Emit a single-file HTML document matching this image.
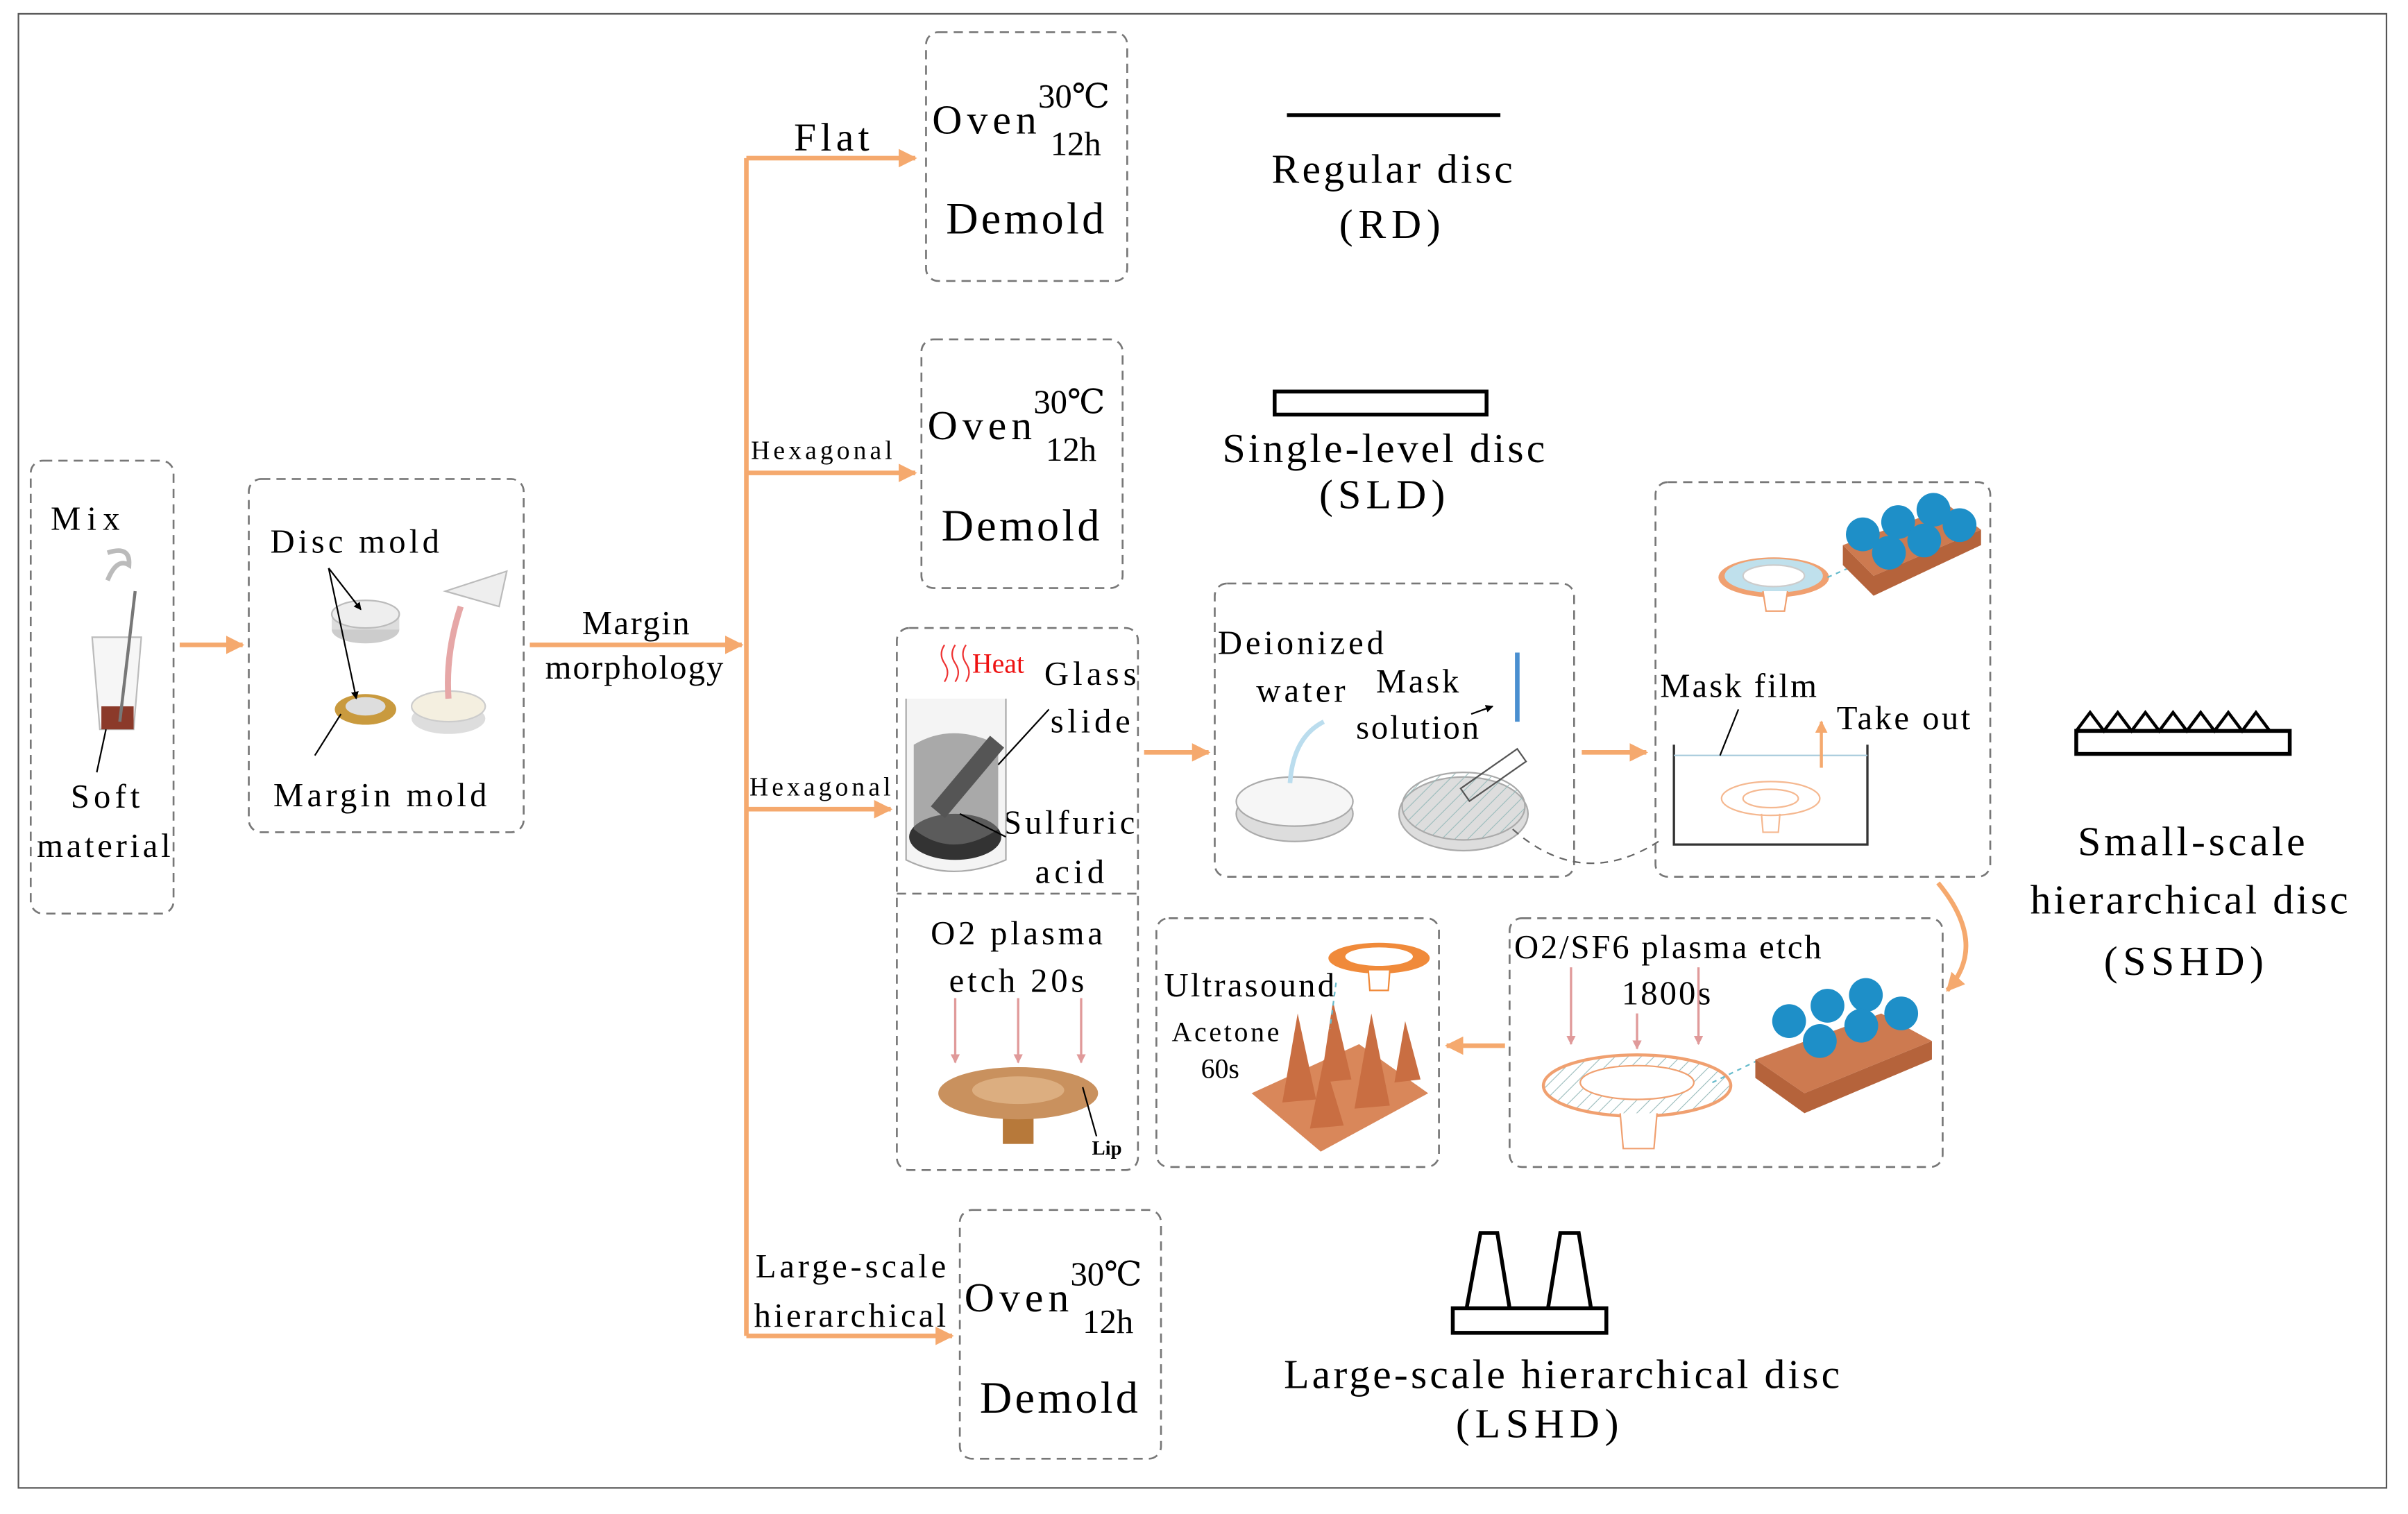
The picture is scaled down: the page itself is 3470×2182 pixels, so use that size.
<!DOCTYPE html>
<html><head><meta charset="utf-8"><style>
html,body{margin:0;padding:0;background:#fff;width:3470px;height:2182px;overflow:hidden}
svg{display:block;font-family:"Liberation Serif","DejaVu Serif",serif}
svg text{font-family:"Liberation Serif","DejaVu Serif",serif;fill:#000}
</style></head><body>
<svg width="3470" height="2182" viewBox="0 0 1568 986" xmlns="http://www.w3.org/2000/svg" font-family="Liberation Serif, DejaVu Serif, serif">
<defs>
<marker id="a" viewBox="0 0 10 10" refX="9" refY="5" markerWidth="4" markerHeight="4" orient="auto"><path d="M0,0L10,5L0,10z" fill="#F5A96E"/></marker>
<marker id="k" viewBox="0 0 10 10" refX="9" refY="5" markerWidth="5" markerHeight="5" orient="auto"><path d="M0,0L10,5L0,10z" fill="#000"/></marker>
<marker id="p" viewBox="0 0 10 10" refX="9" refY="5" markerWidth="4" markerHeight="4" orient="auto"><path d="M0,0L10,5L0,10z" fill="#e09a9a"/></marker>
<pattern id="h" width="6" height="6" patternUnits="userSpaceOnUse" patternTransform="rotate(45)"><line x1="0" y1="0" x2="0" y2="6" stroke="#9bb" stroke-width="1"/></pattern>
</defs>
<rect x="12" y="9" width="1542" height="960" fill="none" stroke="#555" stroke-width="1"/>
<g fill="none" stroke="#777" stroke-width="1.2" stroke-dasharray="6,4">
<rect x="20" y="300" width="93" height="295" rx="8"/>
<rect x="162" y="312" width="179" height="230" rx="8"/>
<rect x="603" y="21" width="131" height="162" rx="8"/>
<rect x="600" y="221" width="131" height="162" rx="8"/>
<rect x="584" y="409" width="157" height="353" rx="8"/>
<line x1="584" y1="582" x2="741" y2="582"/>
<rect x="791" y="380" width="234" height="191" rx="8"/>
<rect x="1078" y="314" width="218" height="257" rx="8"/>
<rect x="983" y="598" width="282" height="162" rx="8"/>
<rect x="753" y="598" width="184" height="162" rx="8"/>
<rect x="625" y="788" width="131" height="162" rx="8"/>
</g>
<g stroke="#F5A96E" stroke-width="3" fill="none">
<line x1="486" y1="103" x2="486" y2="870"/>
<line x1="486" y1="103" x2="596" y2="103" marker-end="url(#a)"/>
<line x1="486" y1="308" x2="596" y2="308" marker-end="url(#a)"/>
<line x1="486" y1="527" x2="580" y2="527" marker-end="url(#a)"/>
<line x1="486" y1="870" x2="620" y2="870" marker-end="url(#a)"/>
<line x1="345" y1="420" x2="483" y2="420" marker-end="url(#a)"/>
<line x1="117" y1="420" x2="158" y2="420" marker-end="url(#a)"/>
<line x1="745" y1="490" x2="787" y2="490" marker-end="url(#a)"/>
<line x1="1030" y1="490" x2="1072" y2="490" marker-end="url(#a)"/>
<path d="M1262,575 Q1295,615 1268,645" marker-end="url(#a)"/>
<line x1="980" y1="681" x2="942" y2="681" marker-end="url(#a)"/>
</g>
<g font-size="22">
<text x="33" y="345" textLength="45">Mix</text>
<text x="46" y="526" textLength="45">Soft</text>
<text x="24" y="558" textLength="87">material</text>
<text x="176" y="360" textLength="110">Disc mold</text>
<text x="178" y="525" textLength="139">Margin mold</text>
<text x="379" y="413" textLength="70">Margin</text>
<text x="355" y="442" textLength="116">morphology</text>
<text x="517" y="98" font-size="26" textLength="49">Flat</text>
<text x="489" y="299" font-size="17" textLength="92">Hexagonal</text>
<text x="488" y="518" font-size="17" textLength="92">Hexagonal</text>
<text x="492" y="832" textLength="124">Large-scale</text>
<text x="491" y="864" textLength="125">hierarchical</text>
</g>
<g font-size="27">
<text x="607" y="87" textLength="68">Oven</text><text x="676" y="70" font-size="22">30℃</text><text x="684" y="101" font-size="22">12h</text>
<text x="616" y="152" font-size="29" textLength="103">Demold</text>
<text x="604" y="286" textLength="68">Oven</text><text x="673" y="269" font-size="22">30℃</text><text x="681" y="300" font-size="22">12h</text>
<text x="613" y="352" font-size="29" textLength="103">Demold</text>
<text x="628" y="854" textLength="68">Oven</text><text x="697" y="837" font-size="22">30℃</text><text x="705" y="868" font-size="22">12h</text>
<text x="638" y="920" font-size="29" textLength="103">Demold</text>
</g>
<g font-size="27">
<text x="828" y="119" textLength="157">Regular disc</text><text x="872" y="155" textLength="66">(RD)</text>
<text x="796" y="301" textLength="210">Single-level disc</text><text x="859" y="331" textLength="82">(SLD)</text>
<text x="1353" y="557" textLength="148">Small-scale</text><text x="1322" y="595" textLength="207">hierarchical disc</text><text x="1370" y="635" textLength="104">(SSHD)</text>
<text x="836" y="904" textLength="362">Large-scale hierarchical disc</text><text x="948" y="936" textLength="106">(LSHD)</text>
</g>
<line x1="838" y1="75" x2="977" y2="75" stroke="#000" stroke-width="2.5"/>
<rect x="830" y="255" width="138" height="15" fill="none" stroke="#000" stroke-width="2.5"/>
<rect x="1352" y="476" width="139" height="15" fill="none" stroke="#000" stroke-width="2.5"/>
<path d="M1352,476 l9,-12 l9,12 l9,-12 l9,12 l9,-12 l9,12 l9,-12 l9,12 l9,-12 l9,12 l9,-12 l9,12 l9,-12 l9,12" fill="none" stroke="#000" stroke-width="2"/>
<rect x="946" y="852" width="100" height="16" fill="none" stroke="#000" stroke-width="2.5"/>
<path d="M955,852 L964,803 L975,803 L983,852 M1008,852 L1016,803 L1028,803 L1036,852" fill="none" stroke="#000" stroke-width="2.5"/>
<g font-size="22">
<text x="680" y="446" textLength="60">Glass</text><text x="684" y="477" textLength="52">slide</text>
<text x="653" y="543" textLength="86">Sulfuric</text><text x="674" y="575" textLength="45">acid</text>
<text x="606" y="615" textLength="112">O2 plasma</text><text x="618" y="646" textLength="88">etch 20s</text>
<text x="793" y="426" textLength="108">Deionized</text><text x="818" y="457" textLength="58">water</text>
<text x="896" y="451" textLength="54">Mask</text><text x="883" y="481" textLength="80">solution</text>
<text x="1081" y="454" textLength="102">Mask film</text><text x="1196" y="475" textLength="87">Take out</text>
<text x="986" y="624" textLength="200">O2/SF6 plasma etch</text><text x="1056" y="654" textLength="58">1800s</text>
<text x="758" y="649" textLength="111">Ultrasound</text>
<text x="763" y="678" font-size="18" textLength="70">Acetone</text><text x="782" y="702" font-size="18">60s</text>
</g>
<text x="633" y="438" font-size="18" style="fill:#e11">Heat</text>
<text x="711" y="752" font-size="13" font-weight="bold">Lip</text>
<path d="M615,420 q-4,6 0,12 q4,6 0,12 M622,420 q-4,6 0,12 q4,6 0,12 M629,420 q-4,6 0,12 q4,6 0,12" stroke="#e33" fill="none"/>
<path d="M60,415 L92,415 L87,475 L65,475 Z" fill="#f6f6f6" stroke="#bbb"/>
<rect x="66" y="460" width="21" height="15" fill="#8b3a2a"/>
<line x1="88" y1="385" x2="78" y2="470" stroke="#777" stroke-width="2"/>
<path d="M70,360 q15,-5 14,8 q-8,-5 -14,10" fill="none" stroke="#bbb" stroke-width="3"/>
<line x1="69" y1="475" x2="63" y2="503" stroke="#000"/>
<ellipse cx="238" cy="410" rx="22" ry="9" fill="#ccc"/><rect x="216" y="400" width="44" height="10" fill="#ddd"/><ellipse cx="238" cy="400" rx="22" ry="9" fill="#eee" stroke="#bbb"/>
<ellipse cx="238" cy="462" rx="20" ry="10" fill="#c99a3e"/><ellipse cx="238" cy="460" rx="13" ry="6" fill="#ddd"/>
<ellipse cx="292" cy="468" rx="24" ry="10" fill="#ddd"/><ellipse cx="292" cy="460" rx="24" ry="10" fill="#f4efe0" stroke="#ccc"/>
<path d="M290,385 L330,372 L325,395 Z" fill="#eee" stroke="#bbb"/><path d="M300,395 q-10,30 -8,60" stroke="#e6a7a7" stroke-width="4" fill="none"/>
<line x1="214" y1="370" x2="235" y2="397" stroke="#000" marker-end="url(#k)"/>
<line x1="214" y1="370" x2="232" y2="455" stroke="#000" marker-end="url(#k)"/>
<line x1="205" y1="492" x2="222" y2="465" stroke="#000"/>
<path d="M590,455 L590,560 Q620,575 655,560 L655,455" fill="#f4f4f4" stroke="#aaa"/>
<ellipse cx="622" cy="545" rx="30" ry="15" fill="#333"/>
<path d="M595,485 Q620,470 650,485 L650,540 Q620,560 595,540 Z" fill="#777" opacity="0.6"/>
<rect x="600" y="500" width="60" height="12" fill="#555" transform="rotate(-50 630 506)"/>
<line x1="683" y1="462" x2="650" y2="498" stroke="#000"/><line x1="655" y1="545" x2="625" y2="530" stroke="#000"/>
<g stroke="#e09a9a" stroke-width="1.5"><line x1="622" y1="650" x2="622" y2="692" marker-end="url(#p)"/><line x1="663" y1="650" x2="663" y2="692" marker-end="url(#p)"/><line x1="704" y1="650" x2="704" y2="692" marker-end="url(#p)"/></g>
<rect x="653" y="720" width="20" height="25" fill="#b7793a"/>
<ellipse cx="663" cy="712" rx="52" ry="17" fill="#c9915e"/><ellipse cx="663" cy="710" rx="30" ry="9" fill="#dcae80"/>
<line x1="705" y1="708" x2="714" y2="740" stroke="#000"/>
<ellipse cx="843" cy="530" rx="38" ry="18" fill="#ddd" stroke="#aaa"/><ellipse cx="843" cy="522" rx="38" ry="16" fill="#f6f6f6" stroke="#aaa"/>
<path d="M862,470 q-20,10 -22,40" stroke="#bde" stroke-width="3" fill="none"/>
<ellipse cx="953" cy="530" rx="42" ry="24" fill="#ddd" stroke="#aaa"/><ellipse cx="953" cy="525" rx="40" ry="22" fill="url(#h)" stroke="#aaa"/>
<rect x="950" y="500" width="45" height="10" fill="none" stroke="#555" transform="rotate(-35 972 505)"/>
<line x1="988" y1="425" x2="988" y2="470" stroke="#4a8fd0" stroke-width="3"/>
<line x1="958" y1="465" x2="972" y2="460" stroke="#000" marker-end="url(#k)"/>
<path d="M985,540 Q1030,580 1080,548" fill="none" stroke="#666" stroke-dasharray="5,4"/>
<ellipse cx="1155" cy="376" rx="36" ry="13" fill="#f0a070"/><ellipse cx="1155" cy="375" rx="32" ry="11" fill="#bfe0ec"/><ellipse cx="1155" cy="375" rx="20" ry="7" fill="#fff" stroke="#ccc"/>
<path d="M1148,385 L1150,398 L1162,398 L1164,385" fill="#fff" stroke="#f0a070"/>
<line x1="1190" y1="376" x2="1215" y2="365" stroke="#6bc" stroke-dasharray="3,3"/>
<path d="M1200,355 L1270,330 L1290,345 L1220,375 Z" fill="#cd7a50"/><path d="M1220,375 L1290,345 L1290,355 L1220,388 L1200,368 L1200,355 Z" fill="#b5633b"/>
<g fill="#1e8fc8"><circle cx="1213" cy="348" r="11"/><circle cx="1236" cy="340" r="11"/><circle cx="1259" cy="332" r="11"/><circle cx="1276" cy="342" r="11"/><circle cx="1230" cy="360" r="11"/><circle cx="1253" cy="352" r="11"/></g>
<path d="M1090,485 L1090,550 L1216,550 L1216,485" fill="none" stroke="#333" stroke-width="1.5"/>
<line x1="1090" y1="492" x2="1216" y2="492" stroke="#aaccdd"/>
<ellipse cx="1153" cy="520" rx="32" ry="11" fill="none" stroke="#f5b890"/><ellipse cx="1153" cy="520" rx="18" ry="6" fill="none" stroke="#f5b890"/>
<path d="M1147,530 L1148,542 L1158,542 L1159,530" fill="none" stroke="#f5b890"/>
<line x1="1132" y1="462" x2="1120" y2="492" stroke="#000"/>
<line x1="1186" y1="500" x2="1186" y2="470" stroke="#F5A96E" stroke-width="2" marker-end="url(#a)"/>
<g stroke="#e09a9a" stroke-width="1.5"><line x1="1023" y1="630" x2="1023" y2="680" marker-end="url(#p)"/><line x1="1066" y1="660" x2="1066" y2="683" marker-end="url(#p)"/><line x1="1106" y1="630" x2="1106" y2="680" marker-end="url(#p)"/></g>
<ellipse cx="1066" cy="707" rx="61" ry="20" fill="url(#h)" stroke="#f0a070" stroke-width="2"/><ellipse cx="1066" cy="705" rx="37" ry="11" fill="#fff" stroke="#f0a070"/>
<path d="M1055,725 L1057,748 L1077,748 L1079,725" fill="#fff" stroke="#f0a070"/>
<line x1="1115" y1="705" x2="1150" y2="688" stroke="#6bc" stroke-dasharray="3,3"/>
<path d="M1143,690 L1225,660 L1258,678 L1175,712 Z" fill="#cd7a50"/><path d="M1143,690 L1175,712 L1258,678 L1258,690 L1175,725 L1143,702 Z" fill="#b5633b"/>
<g fill="#1e8fc8"><circle cx="1165" cy="665" r="11"/><circle cx="1190" cy="655" r="11"/><circle cx="1215" cy="648" r="11"/><circle cx="1238" cy="660" r="11"/><circle cx="1185" cy="678" r="11"/><circle cx="1212" cy="668" r="11"/></g>
<path d="M815,712 L885,680 L930,712 L860,750 Z" fill="#d9875a"/>
<g fill="#c96e42"><path d="M835,718 L845,660 L857,716Z"/><path d="M860,705 L868,652 L880,703Z"/><path d="M882,722 L893,660 L905,720Z"/><path d="M908,705 L915,665 L925,703Z"/><path d="M853,735 L862,690 L875,733Z"/></g>
<ellipse cx="898" cy="624" rx="33" ry="10" fill="#f08a3a"/><ellipse cx="898" cy="623" rx="22" ry="6" fill="#fff"/>
<path d="M891,632 L892,645 L904,645 L905,632" fill="#fff" stroke="#f08a3a"/>
<line x1="870" y1="640" x2="866" y2="670" stroke="#6bc" stroke-dasharray="3,3"/>
</svg>
</body></html>
